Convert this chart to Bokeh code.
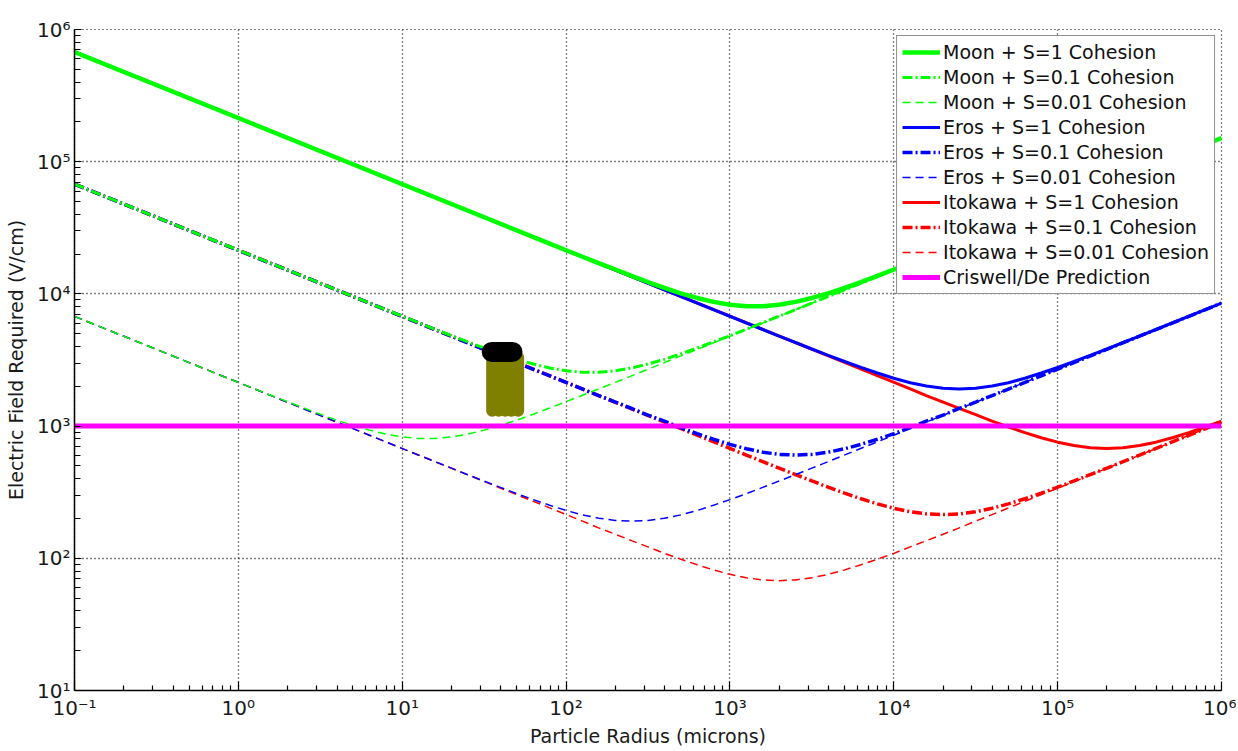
from bokeh.plotting import figure
from bokeh.models import FixedTicker, CustomJSTickFormatter, Legend, LegendItem
from bokeh.embed import file_html
from bokeh.resources import INLINE

# ---------------- data ----------------
# each curve: particle radius (microns) and electric field required (V/cm)
moon_s1_x = [0.1, 79.4, 100, 126, 158, 200, 251, 316, 398, 501, 631, 794, 1000, 1259, 1585,
             1995, 2512, 3162, 3981, 5012, 6310, 7943, 1e4, 1.26e4, 1.58e4, 2.0e4, 2.51e4, 1e6]
moon_s1_y = [6.76e5, 2.40e4, 2.14e4, 1.91e4, 1.71e4, 1.53e4, 1.37e4, 1.23e4, 1.11e4, 1.01e4, 9.32e3,
             8.70e3, 8.28e3, 8.07e3, 8.07e3, 8.28e3, 8.70e3, 9.32e3, 1.01e4, 1.11e4, 1.23e4,
             1.37e4, 1.53e4, 1.71e4, 1.91e4, 2.14e4, 2.40e4, 1.51e5]

moon_s01_x = [0.1, 7.94, 10, 12.6, 15.8, 20, 25.1, 31.6, 39.8, 50.1, 63.1, 79.4, 100, 126, 158,
              200, 251, 316, 398, 501, 631, 794, 1000, 1259, 1585, 1995, 2512, 1e6]
moon_s01_y = [6.76e4, 7.60e3, 6.78e3, 6.05e3, 5.40e3, 4.83e3, 4.33e3, 3.90e3, 3.52e3, 3.20e3, 2.95e3,
              2.75e3, 2.62e3, 2.55e3, 2.55e3, 2.62e3, 2.75e3, 2.95e3, 3.20e3, 3.52e3, 3.90e3,
              4.33e3, 4.83e3, 5.40e3, 6.05e3, 6.78e3, 7.60e3, 1.51e5]

moon_s001_x = [0.1, 0.794, 1, 1.26, 1.58, 2.0, 2.51, 3.16, 3.98, 5.01, 6.31, 7.94, 10, 12.6, 15.8,
               20, 25.1, 31.6, 39.8, 50.1, 63.1, 79.4, 100, 126, 158, 200, 251, 1e6]
moon_s001_y = [6.76e3, 2.40e3, 2.14e3, 1.91e3, 1.71e3, 1.53e3, 1.37e3, 1.23e3, 1.11e3, 1.01e3, 932,
               870, 828, 807, 807, 828, 870, 932, 1.01e3, 1.11e3, 1.23e3,
               1.37e3, 1.53e3, 1.71e3, 1.91e3, 2.14e3, 2.40e3, 1.51e5]

eros_s1_x = [0.1, 1585, 1995, 2512, 3162, 3981, 5012, 6310, 7943, 1e4, 1.26e4, 1.58e4, 2.0e4, 2.51e4,
             3.16e4, 3.98e4, 5.01e4, 6.31e4, 7.94e4, 1e5, 1.26e5, 1.58e5, 2.0e5, 2.51e5, 3.16e5, 3.98e5, 1e6]
eros_s1_y = [6.76e5, 5.38e3, 4.80e3, 4.29e3, 3.83e3, 3.43e3, 3.08e3, 2.78e3, 2.52e3, 2.30e3, 2.13e3,
             2.01e3, 1.93e3, 1.91e3, 1.93e3, 2.01e3, 2.13e3, 2.30e3, 2.52e3, 2.78e3, 3.08e3,
             3.43e3, 3.83e3, 4.29e3, 4.80e3, 5.38e3, 8.52e3]

eros_s01_x = [0.1, 158, 200, 251, 316, 398, 501, 631, 794, 1000, 1259, 1585, 1995, 2512,
              3162, 3981, 5012, 6310, 7943, 1e4, 1.26e4, 1.58e4, 2.0e4, 2.51e4, 3.16e4, 3.98e4, 1e6]
eros_s01_y = [6.76e4, 1.70e3, 1.52e3, 1.36e3, 1.21e3, 1.09e3, 973, 877, 795, 728, 674,
              635, 611, 603, 611, 635, 674, 728, 795, 877, 973,
              1.09e3, 1.21e3, 1.36e3, 1.52e3, 1.70e3, 8.51e3]

eros_s001_x = [0.1, 15.8, 20, 25.1, 31.6, 39.8, 50.1, 63.1, 79.4, 100, 126, 158, 200, 251,
               316, 398, 501, 631, 794, 1000, 1259, 1585, 1995, 2512, 3162, 3981, 1e6]
eros_s001_y = [6.76e3, 539, 481, 429, 384, 344, 308, 278, 252, 230, 213,
               201, 193.5, 191, 193.5, 201, 213, 230, 252, 278, 308,
               344, 384, 429, 481, 539, 8.51e3]

itokawa_s1_x = [0.1, 1.26e4, 1.58e4, 2.0e4, 2.51e4, 3.16e4, 3.98e4, 5.01e4, 6.31e4, 7.94e4, 1e5,
                1.26e5, 1.58e5, 2.0e5, 2.51e5, 3.16e5, 3.98e5, 5.01e5, 6.31e5, 7.94e5, 1e6]
itokawa_s1_y = [6.76e5, 1.91e3, 1.70e3, 1.52e3, 1.36e3, 1.22e3, 1.09e3, 985, 893, 817, 756,
                713, 686, 677, 686, 713, 756, 817, 893, 985, 1.09e3]

itokawa_s01_x = [0.1, 1259, 1585, 1995, 2512, 3162, 3981, 5012, 6310, 7943, 1e4, 1.26e4, 1.58e4, 2.0e4,
                 2.51e4, 3.16e4, 3.98e4, 5.01e4, 6.31e4, 7.94e4, 1e5, 1.26e5, 1.58e5, 2.0e5, 2.51e5, 3.16e5, 1e6]
itokawa_s01_y = [6.76e4, 604, 539, 481, 430, 385, 345, 311, 282, 258, 239,
                 225, 216.8, 214, 216.8, 225, 239, 258, 282, 311, 345,
                 385, 430, 481, 539, 604, 1.07e3]

itokawa_s001_x = [0.1, 126, 158, 200, 251, 316, 398, 501, 631, 794, 1000, 1259, 1585, 1995,
                  2512, 3162, 3981, 5012, 6310, 7943, 1e4, 1.26e4, 1.58e4, 2.0e4, 2.51e4, 3.16e4, 1e6]
itokawa_s001_y = [6.76e3, 191, 170, 152, 136, 122, 109, 98.5, 89.3, 81.7, 75.6,
                  71.3, 68.6, 67.7, 68.6, 71.3, 75.6, 81.7, 89.3, 98.5, 109,
                  122, 136, 152, 170, 191, 1.07e3]

criswell_x = [0.1, 1e6]
criswell_y = [1000, 1000]

# measured sample region (olive) and its top (black)
sample_x = [35.4, 38.8, 42.5, 46.5, 51.0]
sample_y_low = [1306, 1306, 1306, 1306, 1306]
sample_y_high = [3300, 3300, 3300, 3300, 3300]
top_x0 = [35.2]
top_x1 = [47.1]
top_y = [3640]

x_ticks = [0.1, 1, 10, 100, 1000, 1e4, 1e5, 1e6]
x_tick_labels = ["10⁻¹", "10⁰", "10¹", "10²", "10³", "10⁴", "10⁵", "10⁶"]
y_ticks = [10, 100, 1000, 1e4, 1e5, 1e6]
y_tick_labels = ["10¹", "10²", "10³", "10⁴", "10⁵", "10⁶"]

legend_labels = ["Moon + S=1 Cohesion", "Moon + S=0.1 Cohesion", "Moon + S=0.01 Cohesion",
                 "Eros + S=1 Cohesion", "Eros + S=0.1 Cohesion", "Eros + S=0.01 Cohesion",
                 "Itokawa + S=1 Cohesion", "Itokawa + S=0.1 Cohesion", "Itokawa + S=0.01 Cohesion",
                 "Criswell/De Prediction"]

# ---------------- figure ----------------
FONT = "DejaVu Sans"
p = figure(width=1236, height=749, x_axis_type="log", y_axis_type="log",
           x_range=(0.1, 1e6), y_range=(10, 1e6),
           output_backend="svg", toolbar_location=None,
           min_border_left=74, min_border_right=15, min_border_top=29, min_border_bottom=56)
p.background_fill_color = "white"
p.border_fill_color = "white"
p.outline_line_color = "black"
p.outline_line_dash = "1 3"
p.outline_line_width = 1.2

GREEN, BLUE, RED, MAGENTA = "#00ff00", "#0000ff", "#ff0000", "#ff00ff"
DASH = "8 5"
DASHDOT = "10 3 2 3"

r_i1 = p.line(itokawa_s1_x, itokawa_s1_y, line_color=RED, line_width=3)
r_i01 = p.line(itokawa_s01_x, itokawa_s01_y, line_color=RED, line_width=3.5, line_dash=DASHDOT)
r_i001 = p.line(itokawa_s001_x, itokawa_s001_y, line_color=RED, line_width=1.5, line_dash=DASH)
r_e1 = p.line(eros_s1_x, eros_s1_y, line_color=BLUE, line_width=3)
r_e01 = p.line(eros_s01_x, eros_s01_y, line_color=BLUE, line_width=3.5, line_dash=DASHDOT)
r_e001 = p.line(eros_s001_x, eros_s001_y, line_color=BLUE, line_width=1.5, line_dash=DASH)
r_m1 = p.line(moon_s1_x, moon_s1_y, line_color=GREEN, line_width=4.5)
r_m01 = p.line(moon_s01_x, moon_s01_y, line_color=GREEN, line_width=3, line_dash=DASHDOT)
r_m001 = p.line(moon_s001_x, moon_s001_y, line_color=GREEN, line_width=1.5, line_dash=DASH)
r_c = p.line(criswell_x, criswell_y, line_color=MAGENTA, line_width=5)

p.segment(x0=sample_x, y0=sample_y_low, x1=sample_x, y1=sample_y_high,
          line_color="#7f7f00", line_width=12, line_cap="round")
p.segment(x0=top_x0, y0=top_y, x1=top_x1, y1=top_y,
          line_color="black", line_width=20, line_cap="round")

# ---------------- axes ----------------
x_minor = [m * 10.0 ** e for e in range(-1, 6) for m in range(2, 10)]
y_minor = [m * 10.0 ** e for e in range(1, 6) for m in range(2, 10)]
p.xaxis.ticker = FixedTicker(ticks=x_ticks, minor_ticks=x_minor)
p.yaxis.ticker = FixedTicker(ticks=y_ticks, minor_ticks=y_minor)

code = """
let best = -1, bd = 1e9;
for (let i = 0; i < tv.length; i++) {
  const d = Math.abs(Math.log10(tv[i]) - Math.log10(tick));
  if (d < bd) { bd = d; best = i; }
}
return bd < 1e-6 ? labels[best] : "";
"""
p.xaxis.formatter = CustomJSTickFormatter(args=dict(tv=x_ticks, labels=x_tick_labels), code=code)
p.yaxis.formatter = CustomJSTickFormatter(args=dict(tv=y_ticks, labels=y_tick_labels), code=code)

for ax in (p.xaxis[0], p.yaxis[0]):
    ax.axis_line_color = "black"
    ax.axis_line_width = 1.5
    ax.major_tick_line_color = "black"
    ax.minor_tick_line_color = "black"
    ax.major_tick_line_width = 1.2
    ax.minor_tick_line_width = 1.2
    ax.major_tick_out = 0
    ax.minor_tick_out = 0
    ax.major_label_text_font = FONT
    ax.major_label_text_font_size = "20px"
    ax.major_label_text_color = "#1a1a1a"
    ax.axis_label_text_font = FONT
    ax.axis_label_text_font_size = "19px"
    ax.axis_label_text_font_style = "normal"
    ax.axis_label_text_color = "#1a1a1a"

p.xaxis.major_tick_in = 9
p.xaxis.minor_tick_in = 5
p.yaxis.major_tick_in = 7
p.yaxis.minor_tick_in = 6
p.xaxis.major_label_standoff = 5
p.yaxis.major_label_standoff = 4
p.xaxis.axis_label = "Particle Radius (microns)"
p.yaxis.axis_label = "Electric Field Required (V/cm)"
p.xaxis.axis_label_standoff = 2
p.yaxis.axis_label_standoff = 7

p.xgrid.grid_line_color = "black"
p.ygrid.grid_line_color = "black"
p.xgrid.grid_line_dash = "1 3"
p.ygrid.grid_line_dash = "1 3"
p.xgrid.grid_line_width = 1.3
p.ygrid.grid_line_width = 1.3

# ---------------- legend ----------------
renderers = [r_m1, r_m01, r_m001, r_e1, r_e01, r_e001, r_i1, r_i01, r_i001, r_c]
legend = Legend(items=[LegendItem(label=lab, renderers=[r]) for lab, r in zip(legend_labels, renderers)],
                location="top_right")
legend.margin = 6
legend.padding = 5
legend.spacing = 3
legend.glyph_width = 38
legend.glyph_height = 20
legend.label_height = 20
legend.label_standoff = 3
legend.label_text_font = FONT
legend.label_text_font_size = "19px"
legend.label_text_color = "#111111"
legend.border_line_color = "#222222"
legend.border_line_width = 1.3
legend.background_fill_color = "white"
legend.background_fill_alpha = 1.0
p.add_layout(legend)

open("out.html", "w").write(file_html(p, INLINE))
